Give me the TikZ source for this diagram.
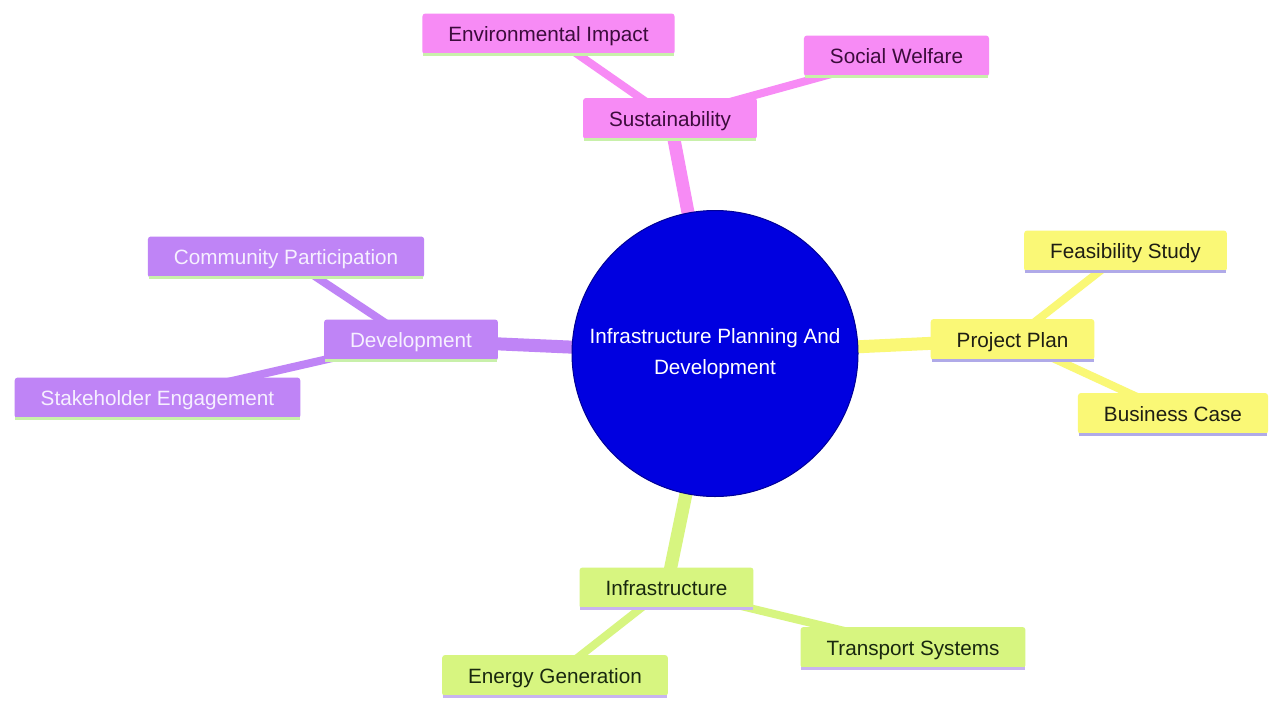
\documentclass[tikz,border=0pt]{standalone}
\usepackage{fontspec}
\setmainfont{Liberation Sans}
\pgfdeclarelayer{edges}
\pgfsetlayers{edges,main}
\definecolor{pinkfill}{RGB}{247,139,245}
\definecolor{purplefill}{RGB}{191,132,246}
\definecolor{yellowfill}{RGB}{250,248,118}
\definecolor{greenfill}{RGB}{215,245,128}
\definecolor{rootblue}{RGB}{0,0,224}
\definecolor{rootborder}{RGB}{0,0,150}
\definecolor{pinktext}{RGB}{60,12,60}
\definecolor{purpletext}{RGB}{246,240,255}
\definecolor{yellowtext}{RGB}{30,30,20}
\definecolor{greentext}{RGB}{25,40,15}
\definecolor{linegreen}{RGB}{200,240,170}
\definecolor{linelav}{RGB}{176,170,232}
\definecolor{linelav2}{RGB}{200,180,240}
\begin{document}
\begin{tikzpicture}[x=1pt,y=-1pt,
  box/.style={rectangle, rounded corners=3pt, minimum height=41pt, inner xsep=26pt, inner ysep=0pt,
    text height=17pt, text depth=2pt, font=\fontsize{20.7}{24}\selectfont},
  pinkbox/.style={box, fill=pinkfill, text=pinktext},
  purplebox/.style={box, fill=purplefill, text=purpletext},
  yellowbox/.style={box, fill=yellowfill, text=yellowtext},
  greenbox/.style={box, fill=greenfill, text=greentext},
  rootnode/.style={circle, minimum size=286pt, inner sep=0pt, fill=rootblue, draw=rootborder, line width=1pt,
    text=white, align=center, font=\fontsize{20.7}{31}\selectfont},
  edgeone/.style={line width=13pt},
  edgetwo/.style={line width=8pt},
  baseline/.style={line width=3pt}
]
\useasboundingbox (0,0) rectangle (1269,702);

\node[rootnode] (root) at (715,353.5) {Infrastructure Planning And\\Development};

\node[pinkbox] (sust) at (670,118.5) {Sustainability};
\node[pinkbox] (env) at (548.5,34) {Environmental Impact};
\node[pinkbox] (soc) at (896.5,56) {Social Welfare};

\node[purplebox] (dev) at (411,340) {Development};
\node[purplebox] (comm) at (286,257) {Community Participation};
\node[purplebox] (stake) at (157.5,398) {Stakeholder Engagement};

\node[yellowbox] (plan) at (1012.5,339.5) {Project Plan};
\node[yellowbox] (feas) at (1125.5,251) {Feasibility Study};
\node[yellowbox] (bus) at (1173,413.5) {Business Case};

\node[greenbox] (infra) at (666.5,588) {Infrastructure};
\node[greenbox] (energy) at (555,675.5) {Energy Generation};
\node[greenbox] (trans) at (913,647.5) {Transport Systems};

\foreach \n in {sust,env,soc,dev,comm,stake}
  \draw[baseline, linegreen] ([xshift=1pt]\n.south west) -- ([xshift=-1pt]\n.south east);
\foreach \n in {plan,feas,bus}
  \draw[baseline, linelav] ([xshift=1pt]\n.south west) -- ([xshift=-1pt]\n.south east);
\foreach \n in {infra,energy,trans}
  \draw[baseline, linelav2] ([xshift=1pt]\n.south west) -- ([xshift=-1pt]\n.south east);

\begin{pgfonlayer}{edges}
  \fill[white] (0,0) rectangle (1269,702);
  \draw[edgeone, pinkfill] (root.center) -- (sust.center);
  \draw[edgetwo, pinkfill] (sust.center) -- (env.center);
  \draw[edgetwo, pinkfill] (sust.center) -- (soc.center);
  \draw[edgeone, purplefill] (root.center) -- (dev.center);
  \draw[edgetwo, purplefill] (dev.center) -- (comm.center);
  \draw[edgetwo, purplefill] (dev.center) -- (stake.center);
  \draw[edgeone, yellowfill] (root.center) -- (plan.center);
  \draw[edgetwo, yellowfill] (plan.center) -- (feas.center);
  \draw[edgetwo, yellowfill] (plan.center) -- (bus.center);
  \draw[edgeone, greenfill] (root.center) -- (infra.center);
  \draw[edgetwo, greenfill] (infra.center) -- (energy.center);
  \draw[edgetwo, greenfill] (infra.center) -- (trans.center);
\end{pgfonlayer}
\end{tikzpicture}
\end{document}
